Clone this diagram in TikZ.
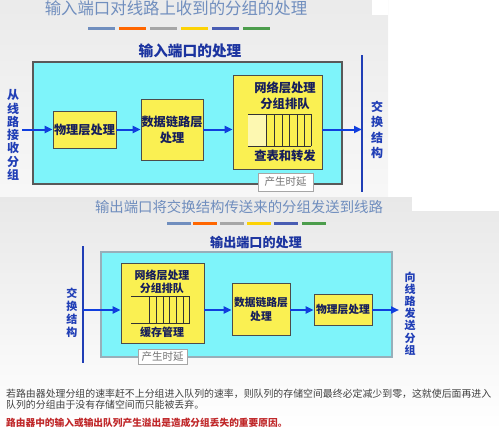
\documentclass[tikz,border=0pt]{standalone}
\usepackage{fontspec}
\setmainfont{Noto Sans CJK SC}
\usepackage{tikz}
\usetikzlibrary{arrows.meta}

\definecolor{titlegray}{RGB}{112,142,190}
\definecolor{headblue}{RGB}{28,52,160}
\definecolor{flowblue}{RGB}{16,62,222}
\definecolor{portcyan}{RGB}{126,244,250}
\definecolor{stageyellow}{RGB}{250,240,82}
\definecolor{stagetext}{RGB}{22,30,92}
\definecolor{sideblue}{RGB}{32,62,182}
\definecolor{lossred}{RGB}{192,40,42}

\tikzset{
  stage/.style={draw=black!70, line width=0.8pt, fill=stageyellow, inner sep=0pt},
  flow/.style={flowblue, line width=2pt, -{Triangle[length=8pt,width=7pt]}},
  fabric/.style={sideblue, line width=2pt},
  delaytag/.style={draw=black!35, fill=white, text=black!55, inner sep=0pt,
    font=\fontsize{10.5}{12}\selectfont},
  sidetext/.style={text=sideblue, align=center, inner sep=0pt, font=\bfseries},
  stagelabel/.style={text=stagetext, align=center, inner sep=0pt, font=\bfseries},
}

\begin{document}
\begin{tikzpicture}[x=1pt,y=-1pt]
  \useasboundingbox (0,0) rectangle (499,431);
  % backgrounds
  \shade[top color=black!8, bottom color=black!3] (0,0) rectangle (388,197);
  \fill[white] (372,0) rectangle (388,15);
  \shade[top color=black!9, bottom color=white] (0,197) rectangle (499,431);
  \fill[white] (412,195) rectangle (499,211);

  % ---- input port ----
  \node[text=titlegray, font=\fontsize{16.4}{18}\selectfont] (intitle) at (176,8) {输入端口对线路上收到的分组的处理};
  \foreach \xa/\c in {88/titlegray, 119/orange!80!red, 150/black!35, 181/yellow!70!orange, 212/headblue!80, 243/green!45!black!70}
    \draw[\c, line width=3pt] (\xa,28) -- ++(27,0);
  \node[text=headblue, font=\fontsize{14.7}{16}\selectfont\bfseries] (inhead) at (190,51) {输入端口的处理};
  \node[draw=black!65, line width=1.5pt, fill=portcyan, minimum width=309pt, minimum height=122pt] (inport) at (187.5,123) {};

  \node[stage, minimum width=63pt, minimum height=37pt] (inphy) at (84.5,129.5) {};
  \node[stagelabel, font=\fontsize{12.2}{14}\selectfont\bfseries] at (inphy) {物理层处理};
  \node[stage, minimum width=62pt, minimum height=61pt] (inlink) at (172,129.5) {};
  \node[stagelabel, font=\fontsize{12.2}{16}\selectfont\bfseries] at (inlink) {数据链路层\\处理};
  \node[stage, minimum width=89pt, minimum height=94pt] (innet) at (277.5,122) {};
  \node[stagelabel, font=\fontsize{12.3}{16}\selectfont\bfseries] (innettext) at (285,96) {网络层处理\\分组排队};
  \node[stagelabel, font=\fontsize{12.3}{14}\selectfont\bfseries] (inlookup) at (285,156) {查表和转发};
  \fill[stageyellow!45!white] (248,114) rectangle (266,146);
  \draw[black!80, line width=0.8pt] (248,114) -- (311,114) (248,146) -- (311,146);
  \foreach \xq in {266,274,282,289,297,304,311}
    \draw[black!80, line width=0.8pt] (\xq,114) -- (\xq,146);
  \node[delaytag, minimum width=55pt, minimum height=18pt] (indelay) at (285.5,182) {产生时延};

  \coordinate (inline) at (22,129.5);
  \draw[fabric] (362,55) -- (362,192);
  \coordinate (infabric) at (362,129.5);
  \node[sidetext, font=\fontsize{12}{13.3}\selectfont\bfseries] (fromline) at (13,135) {从\\线\\路\\接\\收\\分\\组};
  \node[sidetext, font=\fontsize{12}{15.3}\selectfont\bfseries] (tofabric) at (377,130) {交\\换\\结\\构};

  \draw[flow] (inline) -- (inphy.west);
  \draw[flow] (inphy.east) -- (inlink.west);
  \draw[flow] (inlink.east) -- (inlink.east -| innet.west);
  \draw[flow] (innet.east |- inlink.east) -- (infabric);

  % ---- output port ----
  \node[text=titlegray, font=\fontsize{14.4}{16}\selectfont] (outtitle) at (239,207) {输出端口将交换结构传送来的分组发送到线路};
  \foreach \xa/\c in {167/titlegray, 193/orange!80!red, 220/black!35, 247/yellow!70!orange, 274/headblue!80, 302/green!45!black!70}
    \draw[\c, line width=3pt] (\xa,223) -- ++(24,0);
  \node[text=headblue, font=\fontsize{13.1}{15}\selectfont\bfseries] (outhead) at (256,243) {输出端口的处理};
  \node[draw=cyan!40!black!50, line width=1.2pt, fill=portcyan, minimum width=291pt, minimum height=105pt] (outport) at (246.5,304.5) {};

  \node[stage, minimum width=83pt, minimum height=80pt] (outnet) at (162.5,303) {};
  \node[stagelabel, font=\fontsize{11}{13}\selectfont\bfseries] (outnettext) at (162,281.5) {网络层处理\\分组排队};
  \node[stagelabel, font=\fontsize{11}{13}\selectfont\bfseries] (outbuffer) at (162,332) {缓存管理};
  \draw[black!80, line width=0.8pt] (131,296) -- (190,296) (131,323) -- (190,323);
  \foreach \xq in {149,156,163,169,176,183,189}
    \draw[black!80, line width=0.8pt] (\xq,296) -- (\xq,323);
  \node[stage, minimum width=58pt, minimum height=52pt] (outlink) at (261,309) {};
  \node[stagelabel, font=\fontsize{10.8}{14}\selectfont\bfseries] at (outlink) {数据链路层\\处理};
  \node[stage, minimum width=58pt, minimum height=31pt] (outphy) at (343,309.5) {};
  \node[stagelabel, font=\fontsize{10.8}{13}\selectfont\bfseries] at (outphy) {物理层处理};
  \node[delaytag, minimum width=49pt, minimum height=15pt] (outdelay) at (162.5,356.5) {产生时延};

  \draw[fabric] (83,246) -- (83,363);
  \coordinate (outfabric) at (83,310);
  \coordinate (outline) at (399,310);
  \node[sidetext, font=\fontsize{11}{13}\selectfont\bfseries] (fromfabric) at (72,312.5) {交\\换\\结\\构};
  \node[sidetext, font=\fontsize{11}{12.2}\selectfont\bfseries] (toline) at (410,313.5) {向\\线\\路\\发\\送\\分\\组};

  \draw[flow] (outfabric) -- (outfabric -| outnet.west);
  \draw[flow] (outnet.east |- outfabric) -- (outfabric -| outlink.west);
  \draw[flow] (outlink.east |- outfabric) -- (outfabric -| outphy.west);
  \draw[flow] (outphy.east |- outfabric) -- (outline);

  % ---- note ----
  \node[anchor=west, inner sep=0pt, text=black!75, font=\fontsize{9.9}{11}\selectfont] (note1) at (6,394) {若路由器处理分组的速率赶不上分组进入队列的速率，则队列的存储空间最终必定减少到零，这就使后面再进入};
  \node[anchor=west, inner sep=0pt, text=black!75, font=\fontsize{9.9}{11}\selectfont] (note2) at (6,405) {队列的分组由于没有存储空间而只能被丢弃。};
  \node[anchor=west, inner sep=0pt, text=lossred, font=\fontsize{9.7}{11}\selectfont\bfseries] (note3) at (6,423) {路由器中的输入或输出队列产生溢出是造成分组丢失的重要原因。};
\end{tikzpicture}
\end{document}
